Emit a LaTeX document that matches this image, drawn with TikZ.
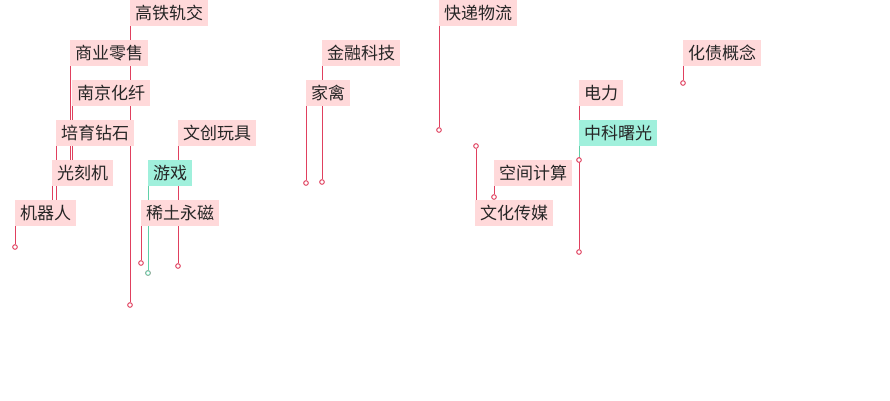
\documentclass[tikz,border=0pt]{standalone}
\usepackage{fontspec}
\setmainfont{Noto Sans CJK SC}
\definecolor{pk}{HTML}{FFD9DA}
\definecolor{gr}{HTML}{A0F0DC}
\definecolor{rl}{HTML}{E0405E}
\definecolor{gl}{HTML}{60D0A8}
\tikzset{
 lab/.style={anchor=north west,fill=pk,inner xsep=5pt,inner ysep=0pt,minimum height=26pt,font=\fontsize{17}{20}\selectfont,text=black!85},
 glab/.style={lab,fill=gr},
 rline/.style={draw=rl,line width=0.9pt},
 gline/.style={draw=gl,line width=0.9pt},
 mk/.style={circle,draw=rl,fill=white,inner sep=0pt,minimum size=4.5pt,line width=0.8pt},
 gmk/.style={mk,draw=gl},
}
\begin{document}
\begin{tikzpicture}[x=1pt,y=-1pt]
\useasboundingbox (0,0) rectangle (890,400);
% markers (coordinates)
\node[mk] (m1) at (130,305) {};
\node[mk] (m2) at (70,170) {};
\node[mk] (m3) at (72,170) {};
\node[mk] (m4) at (56,210) {};
\node[mk] (m5) at (52,210) {};
\node[mk] (m6) at (15,247) {};
\node[mk] (m7) at (178,266) {};
\node[gmk] (m8) at (148,273) {};
\node[mk] (m9) at (141,263) {};
\node[mk] (m10) at (322,182) {};
\node[mk] (m11) at (306,183) {};
\node[mk] (m12) at (439,130) {};
\node[mk] (m13) at (683,83) {};
\node[mk] (m14) at (579,252) {};
\node[mk] (m15) at (579,160) {};
\node[mk] (m16) at (494,197) {};
\node[mk] (m17) at (476,146) {};
% label anchors
\coordinate (a1) at (130,0);
\coordinate (a2) at (70,40);
\coordinate (a3) at (72,80);
\coordinate (a4) at (56,120);
\coordinate (a5) at (52,160);
\coordinate (a6) at (15,200);
\coordinate (a7) at (178,120);
\coordinate (a8) at (148,160);
\coordinate (a9) at (141,200);
\coordinate (a10) at (322,40);
\coordinate (a11) at (306,80);
\coordinate (a12) at (439,0);
\coordinate (a13) at (683,40);
\coordinate (a14) at (579,80);
\coordinate (a15) at (579,120);
\coordinate (a16) at (494,160);
\coordinate (a17) at (475,200);
% lines
\foreach \i in {1,2,3,4,5,6,7,9,10,11,12,13,14,16}{\draw[rline] (a\i) -- (m\i);}
\draw[gline] (a8) -- (m8);
\draw[gline] (a15) -- (m15);
\draw[rline] ([xshift=1pt]a17) -- (m17);
\foreach \i in {1,...,17}{\node[mk] at (m\i) {};}
\node[gmk] at (m8) {};
% labels
\node[lab] (t1) at (a1) {高铁轨交};
\node[lab] (t2) at (a2) {商业零售};
\node[lab] (t3) at (a3) {南京化纤};
\node[lab] (t4) at (a4) {培育钻石};
\node[lab] (t5) at (a5) {光刻机};
\node[lab] (t6) at (a6) {机器人};
\node[lab] (t7) at (a7) {文创玩具};
\node[glab] (t8) at (a8) {游戏};
\node[lab] (t9) at (a9) {稀土永磁};
\node[lab] (t10) at (a10) {金融科技};
\node[lab] (t11) at (a11) {家禽};
\node[lab] (t12) at (a12) {快递物流};
\node[lab] (t13) at (a13) {化债概念};
\node[lab] (t14) at (a14) {电力};
\node[glab] (t15) at (a15) {中科曙光};
\node[lab] (t16) at (a16) {空间计算};
\node[lab] (t17) at (a17) {文化传媒};
\end{tikzpicture}
\end{document}
